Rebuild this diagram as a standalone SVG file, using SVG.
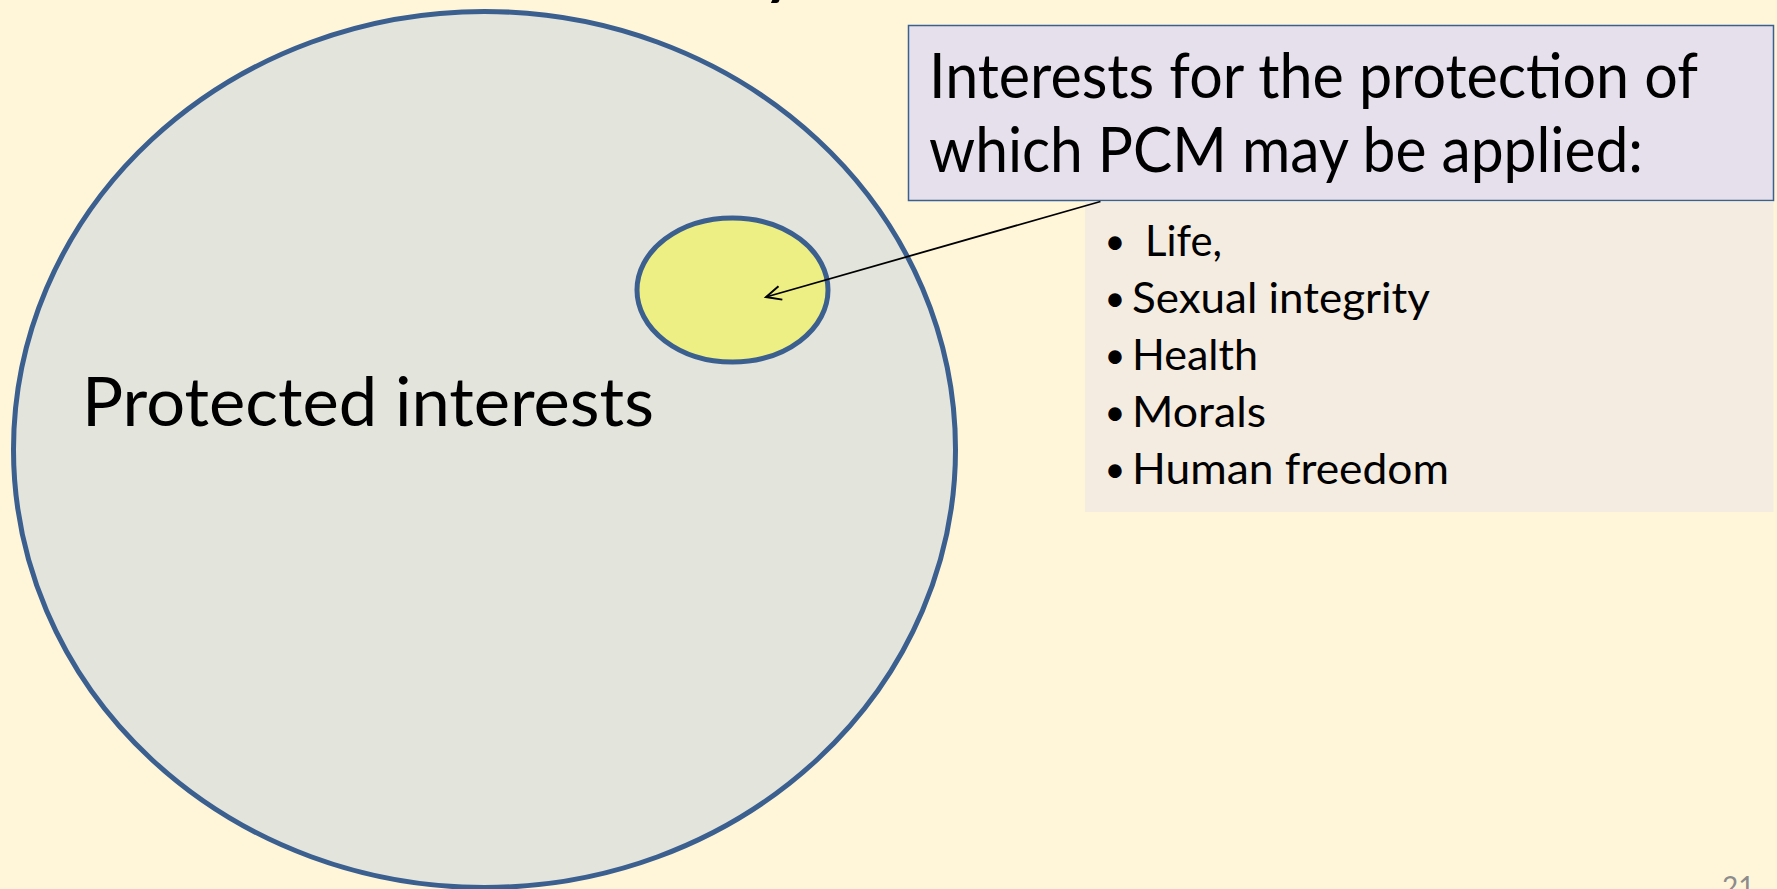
<svg xmlns="http://www.w3.org/2000/svg" width="1777" height="889" viewBox="0 0 1777 889">
<style>
.t{font-family:Lato,"Liberation Sans",sans-serif;fill:#000}
.big{stroke:#3B5F8F;stroke-width:5}
.b{font-size:36px;text-anchor:middle}
</style>
<defs>
<marker id="ah" markerWidth="20" markerHeight="20" refX="17" refY="8" orient="auto" markerUnits="userSpaceOnUse">
<path d="M2,1 L17,8 L2,15" fill="none" stroke="#000" stroke-width="2"/>
</marker>
</defs>
<rect width="1777" height="889" fill="#FFF6DA"/>
<text class="t" x="764" y="-7" font-size="60" font-weight="bold">y</text>
<g id="protected">
<ellipse class="big" cx="484.5" cy="449.5" rx="471" ry="438" fill="#E3E4DC"/>
<text class="t" x="82" y="426" font-size="67" textLength="572" lengthAdjust="spacingAndGlyphs">Protected interests</text>
</g>
<g id="pcm">
<ellipse class="big" cx="732.5" cy="290" rx="95.5" ry="72" fill="#EDEF84"/>
</g>
<g id="title-box">
<rect x="908.5" y="25.5" width="865" height="175" fill="#E5E0EC" stroke="#3B5F8F" stroke-width="1.5"/>
<text class="t" x="929" y="98" font-size="61" textLength="769" lengthAdjust="spacingAndGlyphs">Interests for the protection of</text>
<text class="t" x="929" y="172" font-size="61" textLength="714" lengthAdjust="spacingAndGlyphs">which PCM may be applied:</text>
</g>
<g id="list">
<rect x="1085" y="201.5" width="688.5" height="310.5" fill="#F4ECE0"/>
<g class="t" font-size="43">
<text class="b" x="1115" y="254">•</text><text x="1145" y="256" textLength="77" lengthAdjust="spacingAndGlyphs">Life,</text>
<text class="b" x="1115" y="311">•</text><text x="1132" y="313" textLength="298" lengthAdjust="spacingAndGlyphs">Sexual integrity</text>
<text class="b" x="1115" y="368">•</text><text x="1132" y="370" textLength="126" lengthAdjust="spacingAndGlyphs">Health</text>
<text class="b" x="1115" y="425">•</text><text x="1132" y="427" textLength="134" lengthAdjust="spacingAndGlyphs">Morals</text>
<text class="b" x="1115" y="482">•</text><text x="1132" y="484" textLength="317" lengthAdjust="spacingAndGlyphs">Human freedom</text>
</g>
</g>
<g id="connectors">
<line x1="1100.5" y1="201.5" x2="766" y2="297" stroke="#000" stroke-width="1.8" marker-end="url(#ah)"/>
</g>
<text x="1722" y="897" font-family="Lato,'Liberation Sans',sans-serif" font-size="28" fill="#8C8C8C">21</text>
</svg>
